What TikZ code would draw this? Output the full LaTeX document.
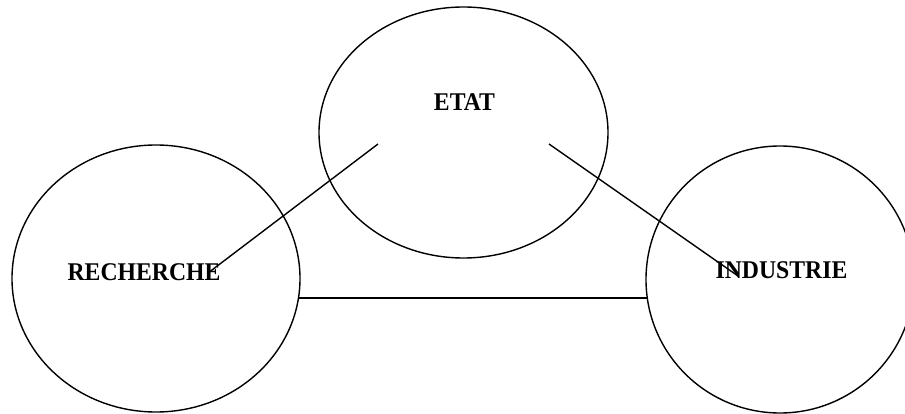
\documentclass[tikz,border=0pt]{standalone}
\usepackage{fontspec}
\newfontfamily\polefont{Liberation Serif}[FakeStretch=0.93]
\usetikzlibrary{shapes.geometric, positioning}
\tikzstyle{pole} = [draw, ellipse, inner sep=0pt]
\tikzstyle{poletext} = [font=\polefont\bfseries\fontsize{25.5}{28}\selectfont, anchor=base, inner sep=0pt]

\begin{document}
\begin{tikzpicture}[x=1pt, y=-1pt, line width=1.4pt]
  \useasboundingbox (0,0) rectangle (905,414);

  % the three poles
  \node[pole, minimum width=289pt, minimum height=251pt] (etat) at (463.5,132.5) {};
  \node[pole, minimum width=288pt, minimum height=267pt] (rech) at (156,278.5) {};
  \node[pole, minimum width=268pt, minimum height=267pt] (ind) at (780,279.5) {};

  \node[poletext] (etat-t) at (464.5,111) {ETAT};
  \node[poletext] (rech-t) at (144,280) {RECHERCHE};
  \node[poletext] (ind-t) at (781.5,278) {INDUSTRIE};

  % link ends
  \coordinate (etat-l) at (378,144);
  \coordinate (etat-r) at (549,144);
  \coordinate (rech-in) at (208,273);
  \coordinate (ind-in) at (738,276);
  \coordinate (rech-h) at (299,298);
  \coordinate (ind-h) at (647,298);

  \draw (etat-l) -- (rech-in);
  \draw (etat-r) -- (ind-in);
  \draw (rech-h) -- (ind-h);

\end{tikzpicture}
\end{document}
